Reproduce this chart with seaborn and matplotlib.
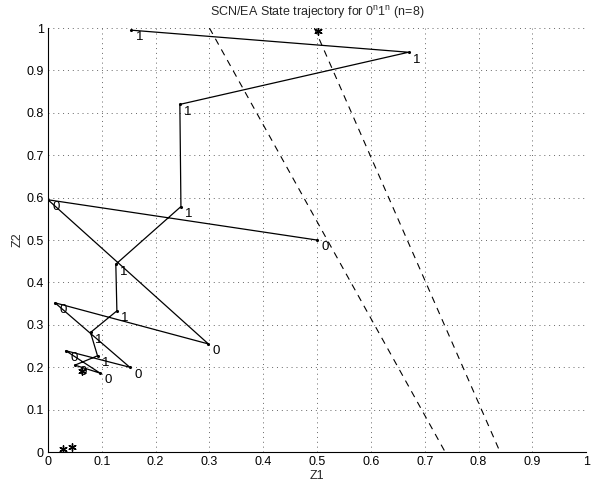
import matplotlib
matplotlib.use("Agg")
import matplotlib.pyplot as plt
import seaborn as sns
import pandas as pd
import numpy as np
from matplotlib.ticker import MultipleLocator

# Trajectory (in plotted order) with input symbols
traj_z1 = [0.500, 0.000, 0.298, 0.013, 0.152, 0.033, 0.097, 0.050,
           0.092, 0.079, 0.128, 0.126, 0.247, 0.245, 0.670, 0.155]
traj_z2 = [0.500, 0.595, 0.255, 0.352, 0.200, 0.239, 0.186, 0.205,
           0.227, 0.282, 0.333, 0.443, 0.579, 0.820, 0.943, 0.995]
symbols = ["0", "0", "0", "0", "0", "0", "0", "0",
           "1", "1", "1", "1", "1", "1", "1", "1"]

# star markers
star_z1 = [0.502, 0.064, 0.027, 0.044]
star_z2 = [0.993, 0.192, 0.007, 0.011]

# dashed decision lines (endpoints)
line1_z1 = [0.300, 0.738]
line1_z2 = [1.000, 0.000]
line2_z1 = [0.495, 0.840]
line2_z2 = [1.000, 0.000]

title = "SCN/EA State trajectory for 0$^{\\mathregular{n}}$1$^{\\mathregular{n}}$ (n=8)"

sns.set_theme(style="white")
plt.rcParams["font.family"] = ["Liberation Sans", "DejaVu Sans"]
plt.rcParams["mathtext.fontset"] = "custom"
plt.rcParams["mathtext.rm"] = "Liberation Sans"

fig = plt.figure(figsize=(6.0, 4.84), dpi=100)
ax = fig.add_axes([0.08, 0.066, 0.897, 0.876])

df = pd.DataFrame({"z1": traj_z1, "z2": traj_z2, "sym": symbols})
sns.lineplot(data=df, x="z1", y="z2", sort=False, estimator=None, color="black",
             linewidth=0.9, ax=ax)
sns.scatterplot(data=df, x="z1", y="z2", color="black", s=5, marker="o",
                edgecolor="black", linewidth=0, ax=ax, zorder=3)
for x, y, s in zip(traj_z1, traj_z2, symbols):
    ax.text(x + 0.008, y - 0.003, s, fontsize=9.5, ha="left", va="top", color="black")

for lx, ly in [(line1_z1, line1_z2), (line2_z1, line2_z2)]:
    sns.lineplot(x=lx, y=ly, color="black", linewidth=0.8, linestyle=(0, (6, 5)),
                 estimator=None, sort=False, ax=ax)

sns.scatterplot(x=star_z1, y=star_z2, marker=(6, 2, 0), s=28, color="black",
                linewidth=1.0, edgecolor="black", ax=ax, zorder=4)

ax.set_xlim(0, 1)
ax.set_ylim(0, 1)
xt = np.arange(0, 1.0001, 0.1)
ax.set_xticks(xt)
ax.set_xticklabels(["0"] + [f"{v:.1f}" for v in xt[1:-1]] + ["1"])
ax.set_yticks(xt)
ax.set_yticklabels(["0"] + [f"{v:.1f}" for v in xt[1:-1]] + ["1"])
ax.xaxis.set_minor_locator(MultipleLocator(0.01))
ax.yaxis.set_minor_locator(MultipleLocator(0.01))
ax.tick_params(axis="both", which="major", direction="in", length=4, width=0.8,
               labelsize=9, color="black", labelcolor="black", pad=3)
ax.tick_params(axis="both", which="minor", direction="in", length=1.5, width=0.5,
               color="black")
ax.grid(True, which="major", linestyle=(0, (1, 4)), color="#666666", linewidth=0.7)
for side in ["top", "right"]:
    ax.spines[side].set_visible(False)
for side in ["left", "bottom"]:
    ax.spines[side].set_color("black")
    ax.spines[side].set_linewidth(0.8)

ax.set_xlabel("Z1", fontsize=9, labelpad=1)
ax.set_ylabel("Z2", fontsize=9, labelpad=2)
ax.set_title(title, fontsize=9, pad=9)

fig.savefig("out.png", dpi=100)
